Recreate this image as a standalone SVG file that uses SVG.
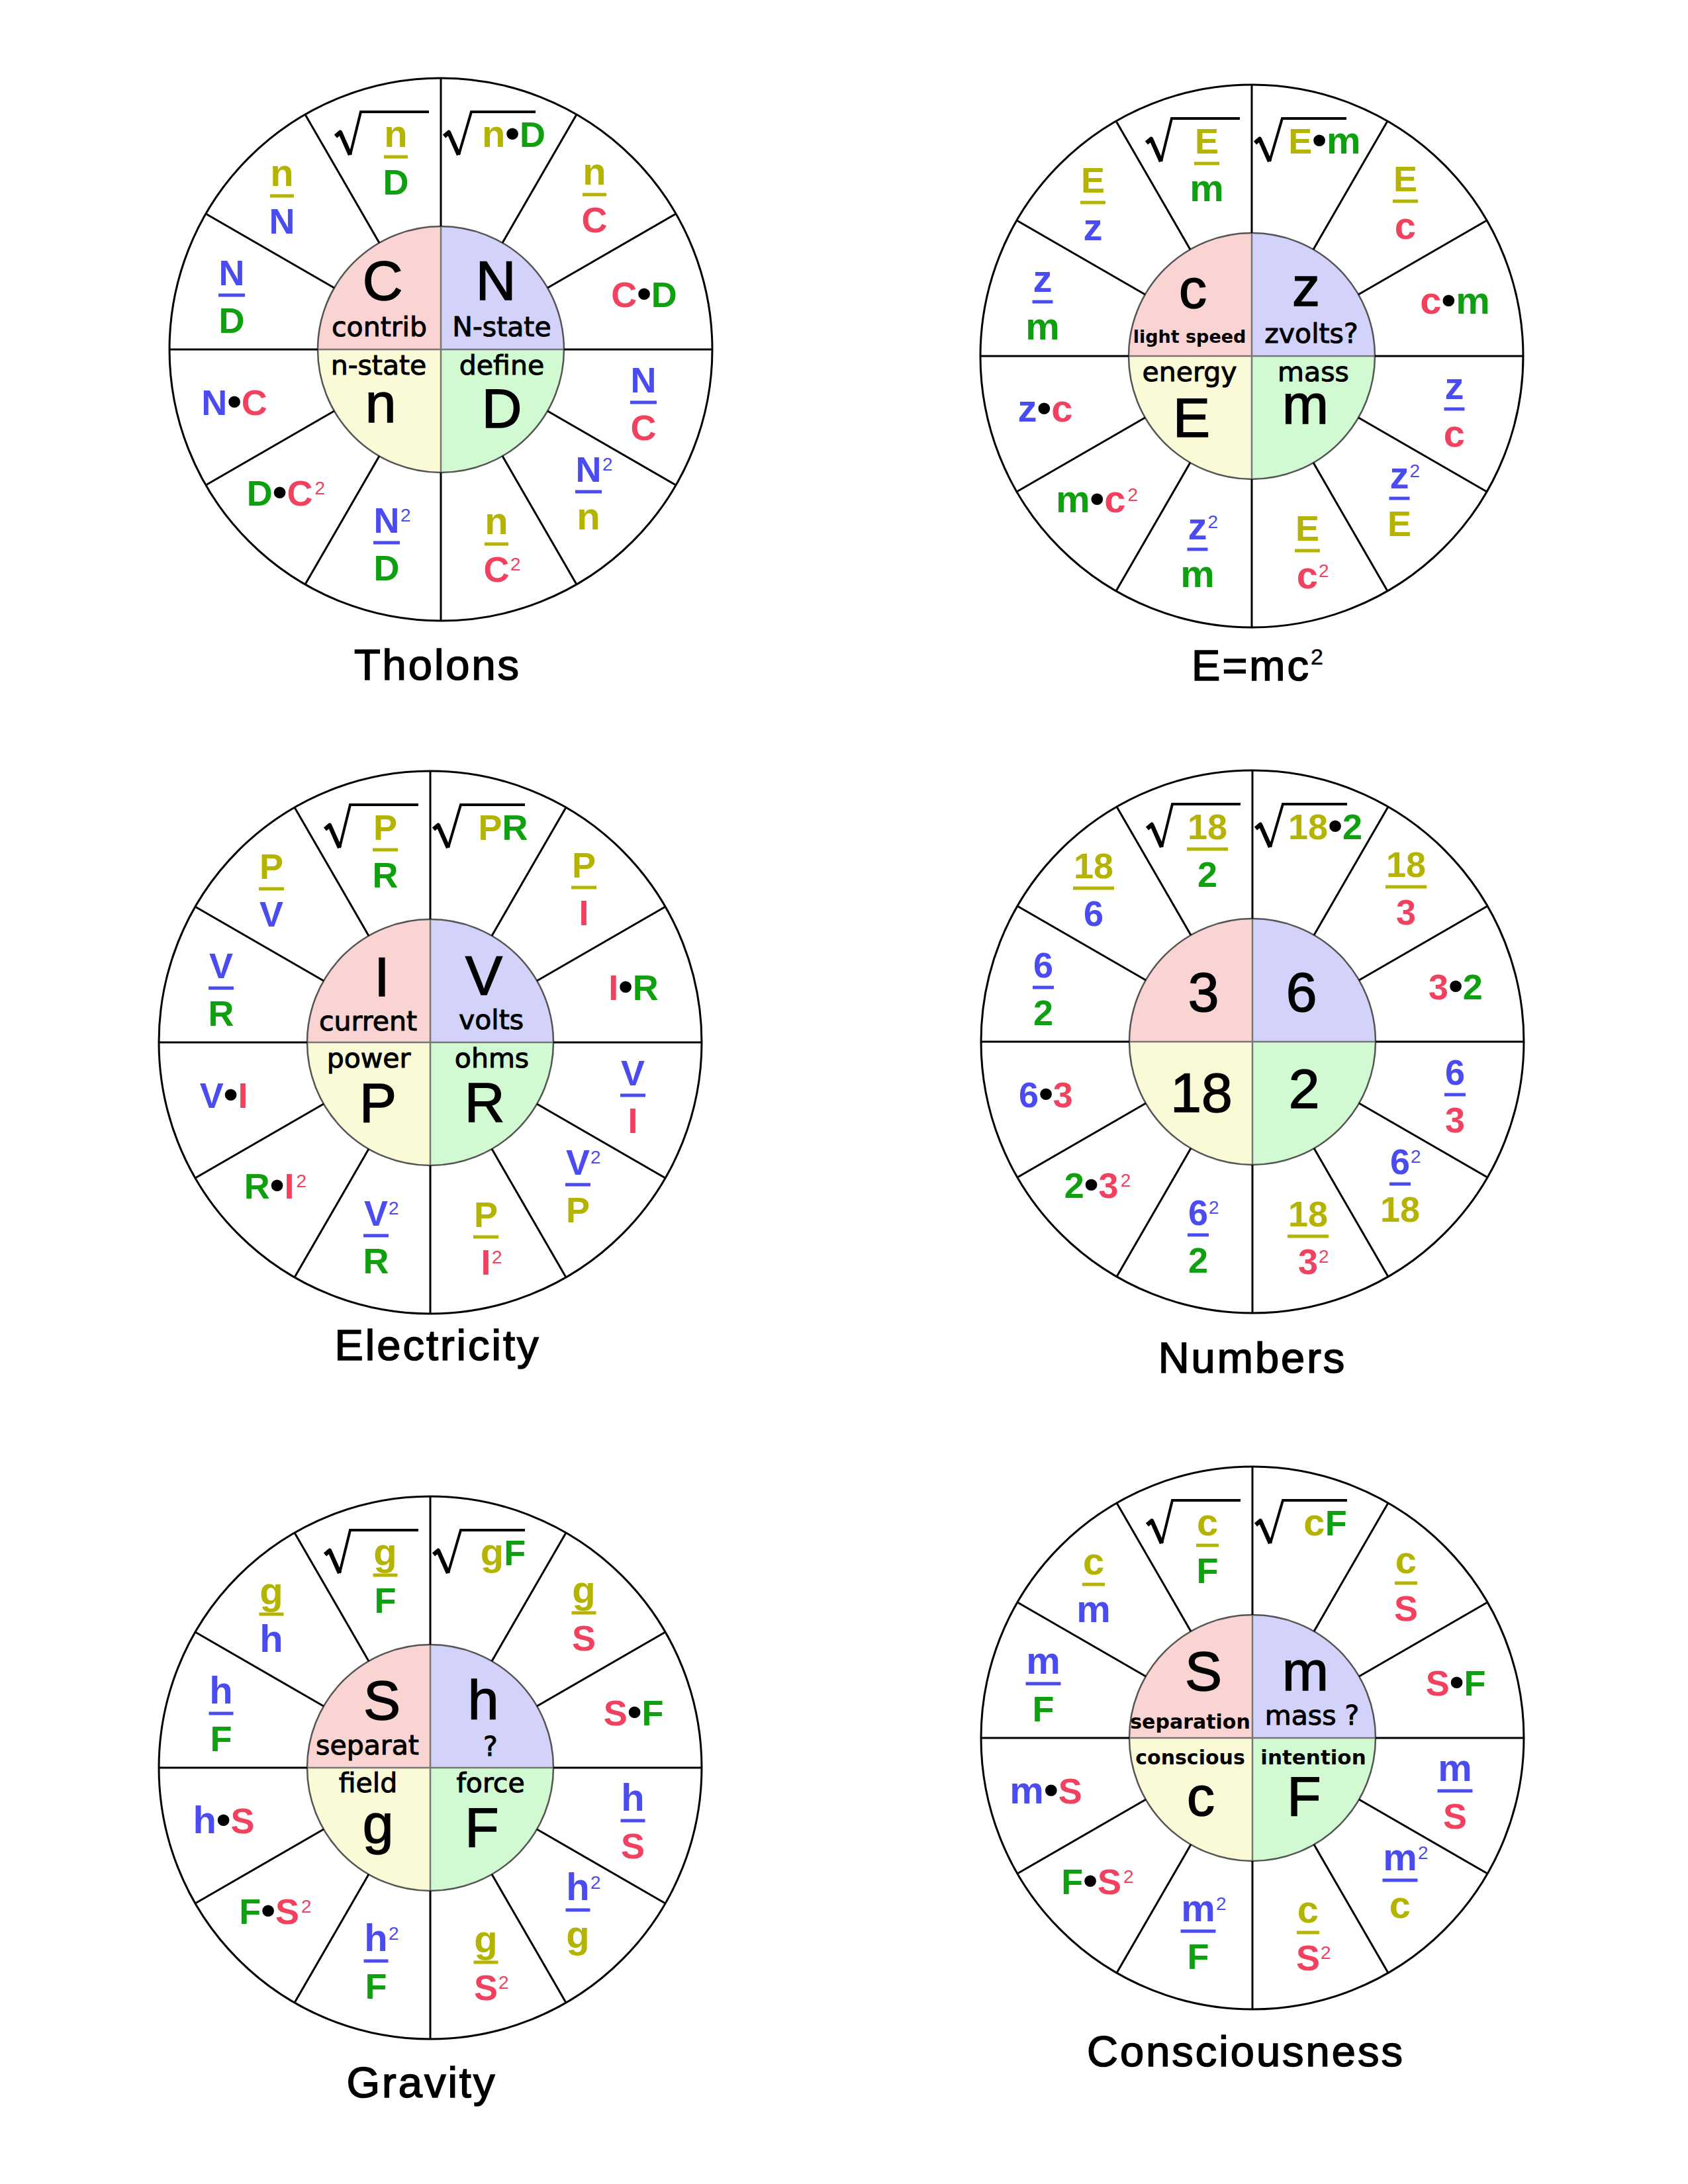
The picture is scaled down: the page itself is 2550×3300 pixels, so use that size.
<svg xmlns="http://www.w3.org/2000/svg" xmlns:xlink="http://www.w3.org/1999/xlink" width="2550" height="3300" viewBox="0 0 2550 3300">
<style>
.ex{font-family:"Liberation Sans",Arial,sans-serif;font-weight:bold;font-size:54px;text-anchor:middle}
.lc{font-size:58px}
.bu{font-size:62px;fill:#000}
.sup{font-family:"Liberation Sans",Arial,sans-serif;font-weight:normal;font-size:28px;text-anchor:start}
.o{fill:#B4B400}.g{fill:#0EA00E}.b{fill:#4B4BF2}.r{fill:#F2415F}
.bo,.bb{stroke-width:5}
.bo{stroke:#B4B400}.bb{stroke:#4B4BF2}
.big{font-family:"Liberation Sans",Arial,sans-serif;font-size:84px;text-anchor:middle;fill:#000;stroke:#000;stroke-width:1.5px}
.lbl{font-family:"DejaVu Sans",Verdana,sans-serif;font-size:41px;text-anchor:middle;fill:#000;stroke:#000;stroke-width:1px}
.sml{font-family:"DejaVu Sans",Verdana,sans-serif;font-weight:bold;font-size:30px;text-anchor:middle;fill:#000}
.ttl{font-family:"Liberation Sans",Arial,sans-serif;font-size:65px;letter-spacing:3px;text-anchor:middle;fill:#000;stroke:#000;stroke-width:1.6px}
</style>
<defs>
<g id="frame">
<path d="M0 0H-186A186 186 0 0 1 0 -186Z" fill="#FAD3D3"/>
<path d="M0 0V-186A186 186 0 0 1 186 0Z" fill="#D2D2FA"/>
<path d="M0 0H186A186 186 0 0 1 0 186Z" fill="#D2FAD2"/>
<path d="M0 0V186A186 186 0 0 1 -186 0Z" fill="#FAFAD7"/>
<path d="M-186 0H186M0 -186V186" stroke="#777" stroke-width="2.5" fill="none"/>
<circle r="186" fill="none" stroke="#555" stroke-width="2.5"/>
<circle r="410" fill="none" stroke="#000" stroke-width="3"/>
<path stroke="#000" stroke-width="3" fill="none" d="M186 0H410M161.1 -93L355.1 -205M93 -161.1L205 -355.1M0 -186V-410M-93 -161.1L-205 -355.1M-161.1 -93L-355.1 -205M-186 0H-410M-161.1 93L-355.1 205M-93 161.1L-205 355.1M0 186V410M93 161.1L205 355.1M161.1 93L355.1 205"/>
<path d="M-159 -322L-152 -328L-137 -294" stroke="#000" stroke-width="6.5" fill="none" stroke-linejoin="round"/>
<path d="M-137 -294L-121 -359H-18" stroke="#000" stroke-width="4" fill="none"/>
<path d="M5 -322L12 -328L27 -294" stroke="#000" stroke-width="6.5" fill="none" stroke-linejoin="round"/>
<path d="M27 -294L46 -359H143" stroke="#000" stroke-width="4" fill="none"/>
</g>
</defs>
<rect width="2550" height="3300" fill="#fff"/>

<g id="tholons" transform="translate(666,528)">
<use href="#frame"/>
<text class="big" x="-88" y="-75">C</text>
<text class="big" x="83" y="-75">N</text>
<text class="lbl" x="-93" y="-20">contrib</text>
<text class="lbl" x="92" y="-20">N-state</text>
<text class="lbl" x="-94" y="38">n-state</text>
<text class="lbl" x="92" y="38">define</text>
<text class="big" x="-91" y="110">n</text>
<text class="big" x="92" y="118">D</text>
<text class="ex" x="110" y="-306"><tspan class="o lc">n</tspan><tspan class="bu">•</tspan><tspan class="g">D</tspan></text>
<text class="ex o lc" x="-68" y="-306">n</text><line class="bo" x1="-86" x2="-50" y1="-291" y2="-291"/><text class="ex g" x="-68" y="-234">D</text>
<text class="ex o lc" x="232" y="-249">n</text><line class="bo" x1="214" x2="250" y1="-234" y2="-234"/><text class="ex r" x="232" y="-177">C</text>
<text class="ex" x="307" y="-64"><tspan class="r">C</tspan><tspan class="bu">•</tspan><tspan class="g">D</tspan></text>
<text class="ex b" x="306" y="65">N</text><line class="bb" x1="286" x2="326" y1="80" y2="80"/><text class="ex r" x="306" y="137">C</text>
<text class="ex b" x="223" y="200">N</text><text class="sup b" x="244" y="183">2</text><line class="bb" x1="203" x2="243" y1="215" y2="215"/><text class="ex o lc" x="223" y="272">n</text>
<text class="ex o lc" x="84" y="279">n</text><line class="bo" x1="66" x2="102" y1="294" y2="294"/><text class="ex r" x="84" y="351">C</text><text class="sup r" x="105" y="334">2</text>
<text class="ex b" x="-82" y="277">N</text><text class="sup b" x="-61" y="260">2</text><line class="bb" x1="-102" x2="-62" y1="292" y2="292"/><text class="ex g" x="-82" y="349">D</text>
<text class="ex" x="-234" y="236"><tspan class="g">D</tspan><tspan class="bu">•</tspan><tspan class="r">C</tspan><tspan class="sup r" dx="3" dy="-17">2</tspan></text>
<text class="ex" x="-312" y="99"><tspan class="b">N</tspan><tspan class="bu">•</tspan><tspan class="r">C</tspan></text>
<text class="ex b" x="-316" y="-97">N</text><line class="bb" x1="-336" x2="-296" y1="-82" y2="-82"/><text class="ex g" x="-316" y="-25">D</text>
<text class="ex o lc" x="-240" y="-247">n</text><line class="bo" x1="-258" x2="-222" y1="-232" y2="-232"/><text class="ex b" x="-240" y="-175">N</text>
</g>

<g id="emc2" transform="translate(1891,538)">
<use href="#frame"/>
<text class="big" x="-89" y="-73">c</text>
<text class="big" x="82" y="-76">z</text>
<text class="sml" x="-94" y="-20" style="font-size:27px">light speed</text>
<text class="lbl" x="90" y="-20">zvolts?</text>
<text class="lbl" x="-94" y="38">energy</text>
<text class="lbl" x="93" y="38">mass</text>
<text class="big" x="-91" y="122">E</text>
<text class="big" x="81" y="102">m</text>
<text class="ex" x="110" y="-306"><tspan class="o">E</tspan><tspan class="bu">•</tspan><tspan class="g lc">m</tspan></text>
<text class="ex o" x="-68" y="-306">E</text><line class="bo" x1="-87" x2="-49" y1="-291" y2="-291"/><text class="ex g lc" x="-68" y="-234">m</text>
<text class="ex o" x="232" y="-249">E</text><line class="bo" x1="213" x2="251" y1="-234" y2="-234"/><text class="ex r lc" x="232" y="-177">c</text>
<text class="ex" x="307" y="-64"><tspan class="r lc">c</tspan><tspan class="bu">•</tspan><tspan class="g lc">m</tspan></text>
<text class="ex b lc" x="306" y="65">z</text><line class="bb" x1="290.5" x2="321.5" y1="80" y2="80"/><text class="ex r lc" x="306" y="137">c</text>
<text class="ex b lc" x="223" y="200">z</text><text class="sup b" x="238.5" y="183">2</text><line class="bb" x1="207.5" x2="238.5" y1="215" y2="215"/><text class="ex o" x="223" y="272">E</text>
<text class="ex o" x="84" y="279">E</text><line class="bo" x1="65" x2="103" y1="294" y2="294"/><text class="ex r lc" x="84" y="351">c</text><text class="sup r" x="101" y="334">2</text>
<text class="ex b lc" x="-82" y="277">z</text><text class="sup b" x="-66.5" y="260">2</text><line class="bb" x1="-97.5" x2="-66.5" y1="292" y2="292"/><text class="ex g lc" x="-82" y="349">m</text>
<text class="ex" x="-234" y="236"><tspan class="g lc">m</tspan><tspan class="bu">•</tspan><tspan class="r lc">c</tspan><tspan class="sup r" dx="3" dy="-17">2</tspan></text>
<text class="ex" x="-312" y="99"><tspan class="b lc">z</tspan><tspan class="bu">•</tspan><tspan class="r lc">c</tspan></text>
<text class="ex b lc" x="-316" y="-97">z</text><line class="bb" x1="-331.5" x2="-300.5" y1="-82" y2="-82"/><text class="ex g lc" x="-316" y="-25">m</text>
<text class="ex o" x="-240" y="-247">E</text><line class="bo" x1="-259" x2="-221" y1="-232" y2="-232"/><text class="ex b lc" x="-240" y="-175">z</text>
</g>

<g id="electricity" transform="translate(650,1575)">
<use href="#frame"/>
<text class="big" x="-73" y="-70">I</text>
<text class="big" x="81" y="-72">V</text>
<text class="lbl" x="-94" y="-18">current</text>
<text class="lbl" x="92" y="-20">volts</text>
<text class="lbl" x="-93" y="38">power</text>
<text class="lbl" x="93" y="38">ohms</text>
<text class="big" x="-79" y="120">P</text>
<text class="big" x="82" y="120">R</text>
<text class="ex" x="110" y="-306"><tspan class="o">P</tspan><tspan class="g">R</tspan></text>
<text class="ex o" x="-68" y="-306">P</text><line class="bo" x1="-87" x2="-49" y1="-291" y2="-291"/><text class="ex g" x="-68" y="-234">R</text>
<text class="ex o" x="232" y="-249">P</text><line class="bo" x1="213" x2="251" y1="-234" y2="-234"/><text class="ex r" x="232" y="-177">I</text>
<text class="ex" x="307" y="-64"><tspan class="r">I</tspan><tspan class="bu">•</tspan><tspan class="g">R</tspan></text>
<text class="ex b" x="306" y="65">V</text><line class="bb" x1="287" x2="325" y1="80" y2="80"/><text class="ex r" x="306" y="137">I</text>
<text class="ex b" x="223" y="200">V</text><text class="sup b" x="242" y="183">2</text><line class="bb" x1="204" x2="242" y1="215" y2="215"/><text class="ex o" x="223" y="272">P</text>
<text class="ex o" x="84" y="279">P</text><line class="bo" x1="65" x2="103" y1="294" y2="294"/><text class="ex r" x="84" y="351">I</text><text class="sup r" x="93" y="334">2</text>
<text class="ex b" x="-82" y="277">V</text><text class="sup b" x="-63" y="260">2</text><line class="bb" x1="-101" x2="-63" y1="292" y2="292"/><text class="ex g" x="-82" y="349">R</text>
<text class="ex" x="-234" y="236"><tspan class="g">R</tspan><tspan class="bu">•</tspan><tspan class="r">I</tspan><tspan class="sup r" dx="3" dy="-17">2</tspan></text>
<text class="ex" x="-312" y="99"><tspan class="b">V</tspan><tspan class="bu">•</tspan><tspan class="r">I</tspan></text>
<text class="ex b" x="-316" y="-97">V</text><line class="bb" x1="-335" x2="-297" y1="-82" y2="-82"/><text class="ex g" x="-316" y="-25">R</text>
<text class="ex o" x="-240" y="-247">P</text><line class="bo" x1="-259" x2="-221" y1="-232" y2="-232"/><text class="ex b" x="-240" y="-175">V</text>
</g>

<g id="numbers" transform="translate(1892,1574)">
<use href="#frame"/>
<text class="big" x="-74" y="-46">3</text>
<text class="big" x="74" y="-46">6</text>
<text class="big" x="-77" y="106">18</text>
<text class="big" x="78" y="100">2</text>
<text class="ex" x="110" y="-306"><tspan class="o">18</tspan><tspan class="bu">•</tspan><tspan class="g">2</tspan></text>
<text class="ex o" x="-68" y="-306">18</text><line class="bo" x1="-99" x2="-37" y1="-291" y2="-291"/><text class="ex g" x="-68" y="-234">2</text>
<text class="ex o" x="232" y="-249">18</text><line class="bo" x1="201" x2="263" y1="-234" y2="-234"/><text class="ex r" x="232" y="-177">3</text>
<text class="ex" x="307" y="-64"><tspan class="r">3</tspan><tspan class="bu">•</tspan><tspan class="g">2</tspan></text>
<text class="ex b" x="306" y="65">6</text><line class="bb" x1="290" x2="322" y1="80" y2="80"/><text class="ex r" x="306" y="137">3</text>
<text class="ex b" x="223" y="200">6</text><text class="sup b" x="239" y="183">2</text><line class="bb" x1="207" x2="239" y1="215" y2="215"/><text class="ex o" x="223" y="272">18</text>
<text class="ex o" x="84" y="279">18</text><line class="bo" x1="53" x2="115" y1="294" y2="294"/><text class="ex r" x="84" y="351">3</text><text class="sup r" x="100" y="334">2</text>
<text class="ex b" x="-82" y="277">6</text><text class="sup b" x="-66" y="260">2</text><line class="bb" x1="-98" x2="-66" y1="292" y2="292"/><text class="ex g" x="-82" y="349">2</text>
<text class="ex" x="-234" y="236"><tspan class="g">2</tspan><tspan class="bu">•</tspan><tspan class="r">3</tspan><tspan class="sup r" dx="3" dy="-17">2</tspan></text>
<text class="ex" x="-312" y="99"><tspan class="b">6</tspan><tspan class="bu">•</tspan><tspan class="r">3</tspan></text>
<text class="ex b" x="-316" y="-97">6</text><line class="bb" x1="-332" x2="-300" y1="-82" y2="-82"/><text class="ex g" x="-316" y="-25">2</text>
<text class="ex o" x="-240" y="-247">18</text><line class="bo" x1="-271" x2="-209" y1="-232" y2="-232"/><text class="ex b" x="-240" y="-175">6</text>
</g>

<g id="gravity" transform="translate(650,2671)">
<use href="#frame"/>
<text class="big" x="-73" y="-73">S</text>
<text class="big" x="80" y="-73">h</text>
<text class="lbl" x="-95" y="-20">separat</text>
<text class="lbl" x="91" y="-18">?</text>
<text class="lbl" x="-94" y="37">field</text>
<text class="lbl" x="91" y="37">force</text>
<text class="big" x="-79" y="114">g</text>
<text class="big" x="78" y="119">F</text>
<text class="ex" x="110" y="-306"><tspan class="o lc">g</tspan><tspan class="g">F</tspan></text>
<text class="ex o lc" x="-68" y="-306">g</text><line class="bo" x1="-86.5" x2="-49.5" y1="-291" y2="-291"/><text class="ex g" x="-68" y="-234">F</text>
<text class="ex o lc" x="232" y="-249">g</text><line class="bo" x1="213.5" x2="250.5" y1="-234" y2="-234"/><text class="ex r" x="232" y="-177">S</text>
<text class="ex" x="307" y="-64"><tspan class="r">S</tspan><tspan class="bu">•</tspan><tspan class="g">F</tspan></text>
<text class="ex b lc" x="306" y="65">h</text><line class="bb" x1="287.5" x2="324.5" y1="80" y2="80"/><text class="ex r" x="306" y="137">S</text>
<text class="ex b lc" x="223" y="200">h</text><text class="sup b" x="242" y="183">2</text><line class="bb" x1="204.5" x2="241.5" y1="215" y2="215"/><text class="ex o lc" x="223" y="272">g</text>
<text class="ex o lc" x="84" y="279">g</text><line class="bo" x1="65.5" x2="102.5" y1="294" y2="294"/><text class="ex r" x="84" y="351">S</text><text class="sup r" x="103" y="334">2</text>
<text class="ex b lc" x="-82" y="277">h</text><text class="sup b" x="-63" y="260">2</text><line class="bb" x1="-100.5" x2="-63.5" y1="292" y2="292"/><text class="ex g" x="-82" y="349">F</text>
<text class="ex" x="-234" y="236"><tspan class="g">F</tspan><tspan class="bu">•</tspan><tspan class="r">S</tspan><tspan class="sup r" dx="3" dy="-17">2</tspan></text>
<text class="ex" x="-312" y="99"><tspan class="b lc">h</tspan><tspan class="bu">•</tspan><tspan class="r">S</tspan></text>
<text class="ex b lc" x="-316" y="-97">h</text><line class="bb" x1="-334.5" x2="-297.5" y1="-82" y2="-82"/><text class="ex g" x="-316" y="-25">F</text>
<text class="ex o lc" x="-240" y="-247">g</text><line class="bo" x1="-258.5" x2="-221.5" y1="-232" y2="-232"/><text class="ex b lc" x="-240" y="-175">h</text>
</g>

<g id="consciousness" transform="translate(1892,2626)">
<use href="#frame"/>
<text class="big" x="-74" y="-72">S</text>
<text class="big" x="80" y="-72">m</text>
<text class="sml" x="-94" y="-14">separation</text>
<text class="lbl" x="90" y="-20">mass ?</text>
<text class="sml" x="-94" y="40">conscious</text>
<text class="sml" x="92" y="40" style="font-size:31px">intention</text>
<text class="big" x="-78" y="117">c</text>
<text class="big" x="78" y="117">F</text>
<text class="ex" x="110" y="-306"><tspan class="o lc">c</tspan><tspan class="g">F</tspan></text>
<text class="ex o lc" x="-68" y="-306">c</text><line class="bo" x1="-85" x2="-51" y1="-291" y2="-291"/><text class="ex g" x="-68" y="-234">F</text>
<text class="ex o lc" x="232" y="-249">c</text><line class="bo" x1="215" x2="249" y1="-234" y2="-234"/><text class="ex r" x="232" y="-177">S</text>
<text class="ex" x="307" y="-64"><tspan class="r">S</tspan><tspan class="bu">•</tspan><tspan class="g">F</tspan></text>
<text class="ex b lc" x="306" y="65">m</text><line class="bb" x1="279.5" x2="332.5" y1="80" y2="80"/><text class="ex r" x="306" y="137">S</text>
<text class="ex b lc" x="223" y="200">m</text><text class="sup b" x="250" y="183">2</text><line class="bb" x1="196.5" x2="249.5" y1="215" y2="215"/><text class="ex o lc" x="223" y="272">c</text>
<text class="ex o lc" x="84" y="279">c</text><line class="bo" x1="67" x2="101" y1="294" y2="294"/><text class="ex r" x="84" y="351">S</text><text class="sup r" x="103" y="334">2</text>
<text class="ex b lc" x="-82" y="277">m</text><text class="sup b" x="-55" y="260">2</text><line class="bb" x1="-108.5" x2="-55.5" y1="292" y2="292"/><text class="ex g" x="-82" y="349">F</text>
<text class="ex" x="-234" y="236"><tspan class="g">F</tspan><tspan class="bu">•</tspan><tspan class="r">S</tspan><tspan class="sup r" dx="3" dy="-17">2</tspan></text>
<text class="ex" x="-312" y="99"><tspan class="b lc">m</tspan><tspan class="bu">•</tspan><tspan class="r">S</tspan></text>
<text class="ex b lc" x="-316" y="-97">m</text><line class="bb" x1="-342.5" x2="-289.5" y1="-82" y2="-82"/><text class="ex g" x="-316" y="-25">F</text>
<text class="ex o lc" x="-240" y="-247">c</text><line class="bo" x1="-257" x2="-223" y1="-232" y2="-232"/><text class="ex b lc" x="-240" y="-175">m</text>
</g>

<g id="titles">
<text class="ttl" x="661" y="1027">Tholons</text>
<text class="ttl" x="1901" y="1028">E=mc<tspan font-size="34" stroke-width="0.5" dy="-24">2</tspan></text>
<text class="ttl" x="661" y="2055">Electricity</text>
<text class="ttl" x="1892" y="2074">Numbers</text>
<text class="ttl" x="637" y="3169">Gravity</text>
<text class="ttl" x="1882" y="3122">Consciousness</text>
</g>
</svg>
